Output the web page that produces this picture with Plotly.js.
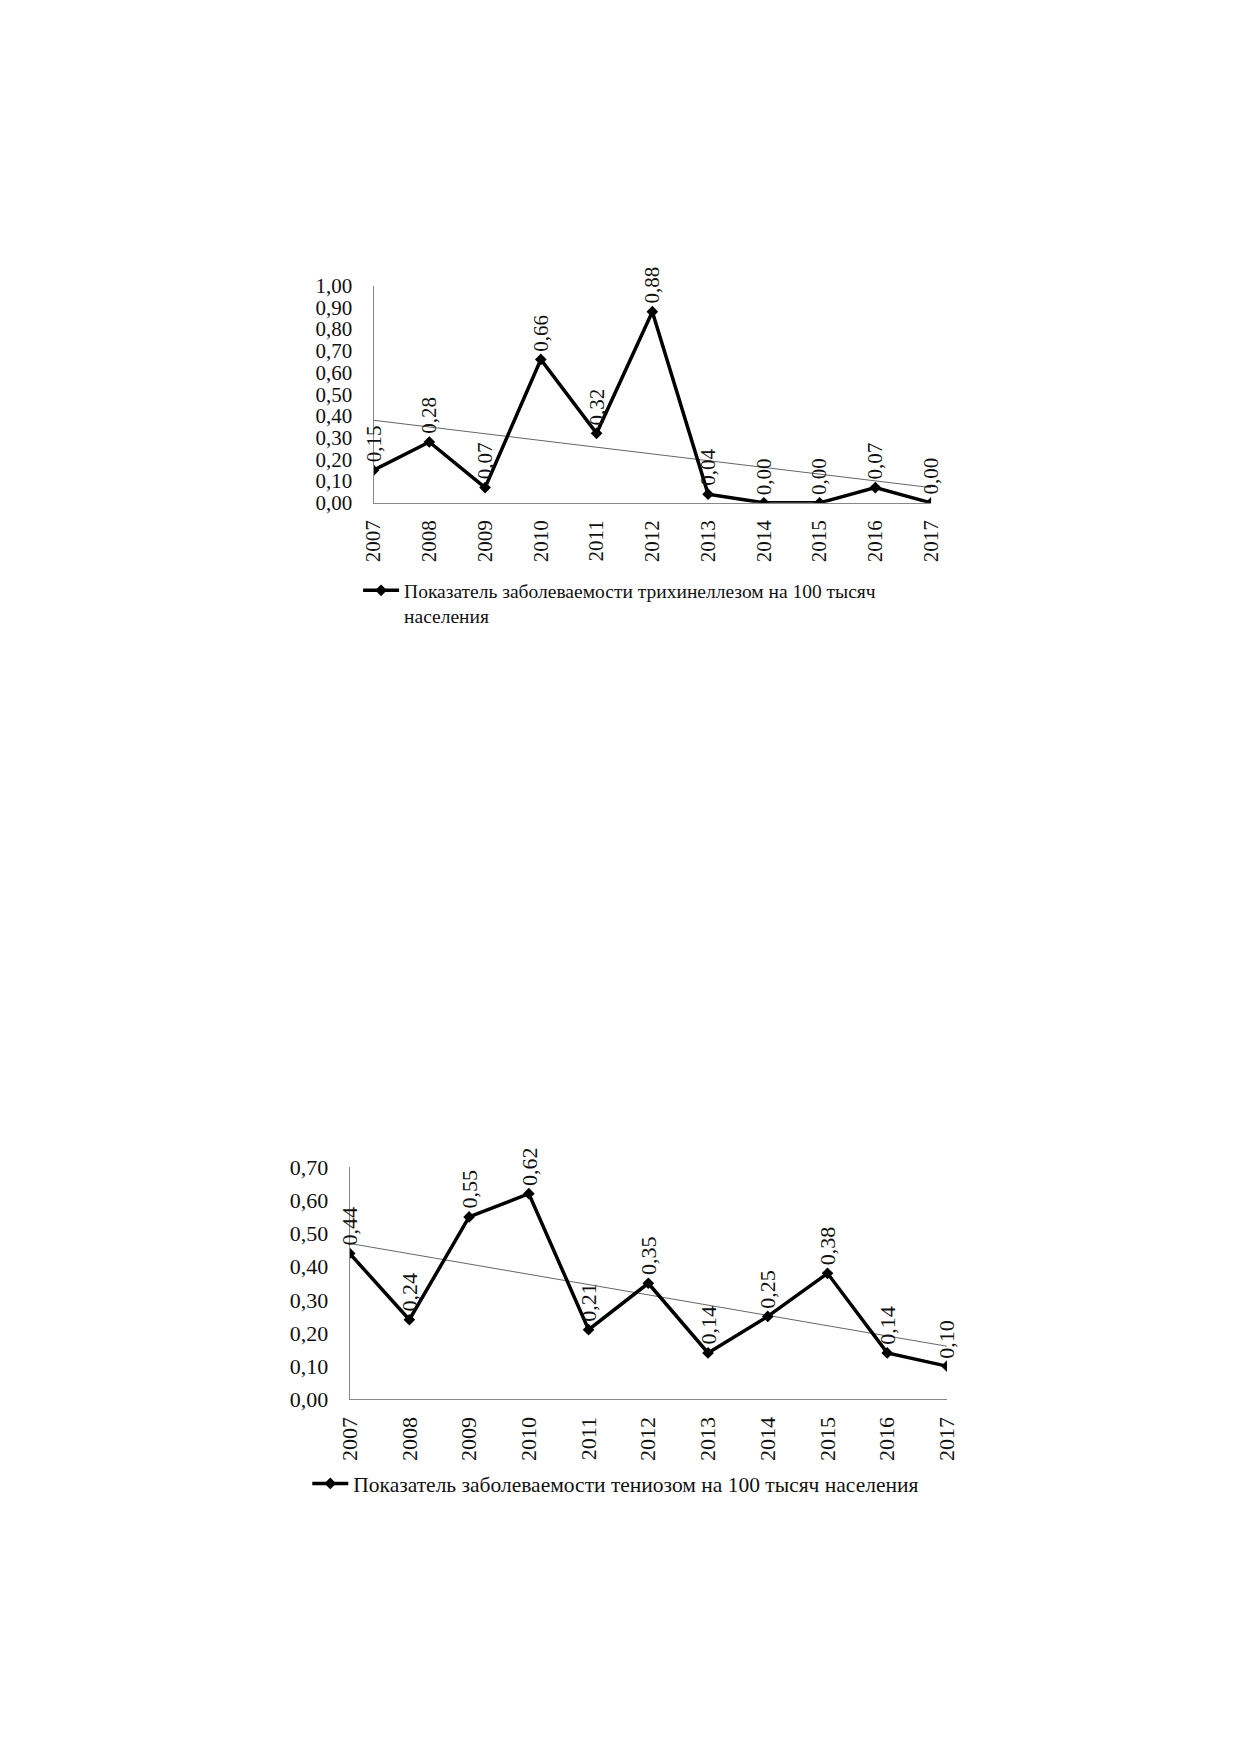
<!DOCTYPE html>
<html>
<head>
<meta charset="utf-8">
<script src="https://cdn.plot.ly/plotly-3.0.1.min.js"></script>
<style>
  body { margin: 0; background: #fff; }
  #canvas { width: 1239px; height: 1752px; }
</style>
</head>
<body>
<div id="canvas"></div>
<script>
var years = [2007, 2008, 2009, 2010, 2011, 2012, 2013, 2014, 2015, 2016, 2017];
var yearLabels = ["2007", "2008", "2009", "2010", "2011", "2012", "2013", "2014", "2015", "2016", "2017"];

// Трихинеллез
var trichValues = [0.15, 0.28, 0.07, 0.66, 0.32, 0.88, 0.04, 0.00, 0.00, 0.07, 0.00];
var trichTrendYears = [2007, 2017];
var trichTrend = [0.38, 0.07];
var trichName = "Показатель заболеваемости трихинеллезом на 100 тысяч<br>населения";

// Тениоз
var taenValues = [0.44, 0.24, 0.55, 0.62, 0.21, 0.35, 0.14, 0.25, 0.38, 0.14, 0.10];
var taenTrendYears = [2007, 2017];
var taenTrend = [0.47, 0.16];
var taenName = "Показатель заболеваемости тениозом на 100 тысяч населения";

var font = 'Liberation Serif, Times New Roman, serif';

function series(y, name, xa, ya, leg) {
  return {
    x: years, y: y, name: name, xaxis: xa, yaxis: ya, legend: leg,
    type: 'scatter', mode: 'lines+markers',
    line: { color: '#000', width: 3.5 },
    marker: { symbol: 'diamond', size: 9, color: '#000' }
  };
}
function trend(x, y, xa, ya) {
  return {
    x: x, y: y, xaxis: xa, yaxis: ya, showlegend: false,
    type: 'scatter', mode: 'lines', hoverinfo: 'skip',
    line: { color: '#666', width: 1 }
  };
}
function labels(y, xa, ya, fs) {
  return y.map(function (v, i) {
    return {
      x: years[i], y: v, xref: xa, yref: ya,
      text: v.toFixed(2).replace('.', ','),
      textangle: -90, showarrow: false,
      xanchor: 'center', yanchor: 'bottom', yshift: 6,
      font: { family: font, size: fs, color: '#111' }
    };
  });
}
function xAxis(domain, anchor, fs) {
  return {
    domain: domain, anchor: anchor, range: [2007, 2017],
    tickmode: 'array', tickvals: years, ticktext: yearLabels, tickangle: -90,
    ticks: '', ticklabelstandoff: 8,
    showline: true, linecolor: '#888', linewidth: 1,
    showgrid: false, zeroline: false,
    tickfont: { family: font, size: fs, color: '#111' }
  };
}
function yAxis(domain, anchor, top, fs) {
  return {
    domain: domain, anchor: anchor, range: [0, top],
    dtick: 0.1, tick0: 0, tickformat: '.2f',
    ticks: '', ticklabelstandoff: 16,
    showline: true, linecolor: '#888', linewidth: 1,
    showgrid: false, zeroline: false,
    tickfont: { family: font, size: fs, color: '#111' }
  };
}

var data = [
  trend(trichTrendYears, trichTrend, 'x', 'y'),
  series(trichValues, trichName, 'x', 'y', 'legend'),
  trend(taenTrendYears, taenTrend, 'x2', 'y2'),
  series(taenValues, taenName, 'x2', 'y2', 'legend2')
];

var layout = {
  width: 1239, height: 1752,
  margin: { l: 0, r: 0, t: 0, b: 0 },
  paper_bgcolor: '#fff', plot_bgcolor: '#fff',
  separators: ', ',
  xaxis: xAxis([0.3015, 0.7515], 'y', 21),
  yaxis: yAxis([0.7130, 0.8370], 'x', 1.0, 21),
  xaxis2: xAxis([0.2822, 0.7643], 'y2', 22),
  yaxis2: yAxis([0.2013, 0.3338], 'x2', 0.7, 22),
  legend: {
    x: 0.289, y: 0.674, xanchor: 'left', yanchor: 'top', valign: 'top',
    bgcolor: 'rgba(0,0,0,0)', itemwidth: 36,
    font: { family: font, size: 19.5, color: '#111' }
  },
  legend2: {
    x: 0.248, y: 0.165, xanchor: 'left', yanchor: 'top',
    bgcolor: 'rgba(0,0,0,0)', itemwidth: 36,
    font: { family: font, size: 21.5, color: '#111' }
  },
  annotations: labels(trichValues, 'x', 'y', 21).concat(labels(taenValues, 'x2', 'y2', 22))
};

Plotly.newPlot('canvas', data, layout, { displayModeBar: false, staticPlot: true });
</script>
</body>
</html>
